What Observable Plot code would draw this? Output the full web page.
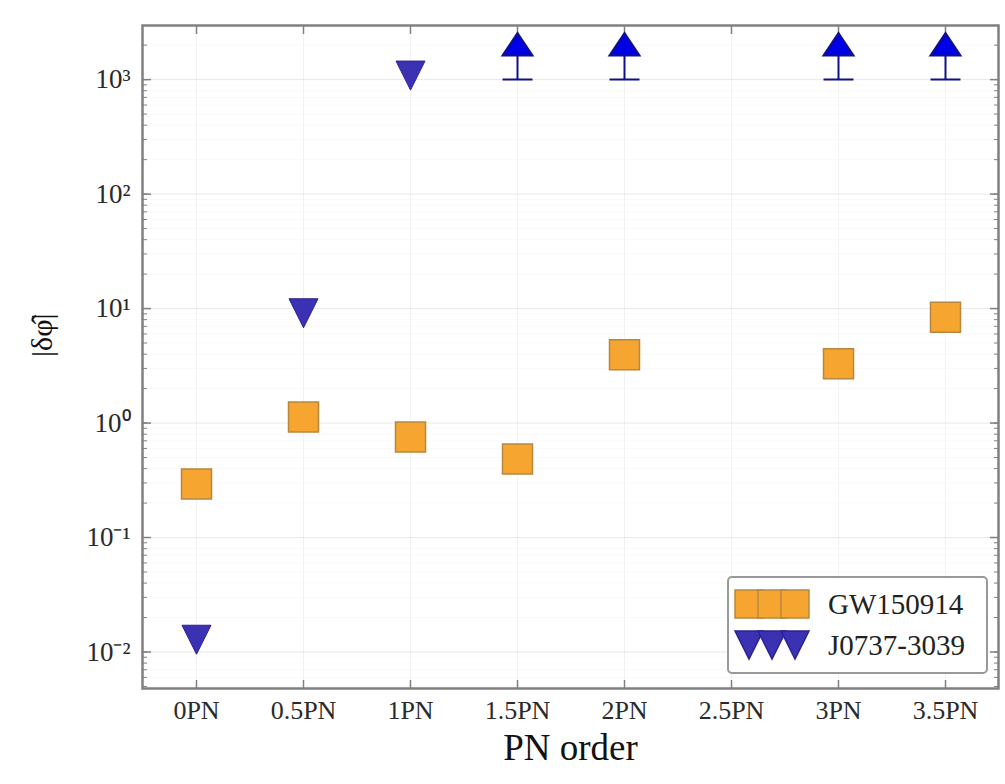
<!DOCTYPE html>
<html><head><meta charset="utf-8">
<script src="https://cdn.jsdelivr.net/npm/d3@7"></script>
<script src="https://cdn.jsdelivr.net/npm/@observablehq/plot@0.6"></script>
<style>
body{margin:0;background:#fff;}
#wrap{position:relative;width:1005px;height:784px;}
</style></head><body><div id="wrap"></div>
<script>
// ---- data ----
const orders = ["0PN","0.5PN","1PN","1.5PN","2PN","2.5PN","3PN","3.5PN"];
const gwOrders = ["0PN","0.5PN","1PN","1.5PN","2PN","3PN","3.5PN"];
const gwValues = [0.294,1.13,0.755,0.485,3.96,3.30,8.4];
const psrOrders = ["0PN","0.5PN","1PN"];
const psrValues = [0.0128,9.1,1085];
const limitOrders = ["1.5PN","2PN","3PN","3.5PN"];
const limitValues = [1000,1000,1000,1000];
const yTickValues = [0.01,0.1,1,10,100,1000];
const yTickLabels = ["10⁻²","10⁻¹","10⁰","10¹","10²","10³"];
const seriesNames = ["GW150914","J0737-3039"];
const xLabel = "PN order";
const yLabel = "|δφ̂|";

const gw = gwOrders.map((o,i)=>({order:o, value:gwValues[i]}));
const psr = psrOrders.map((o,i)=>({order:o, value:psrValues[i]}));
const lim = limitOrders.map((o,i)=>({order:o, value:limitValues[i]}));

const yDomain = [0.0048, 2970];
const minorTicks = d3.scaleLog().domain(yDomain).ticks();

// custom symbols (size = pi r^2)
const squareSym = {draw(ctx,size){const h=Math.sqrt(size/Math.PI);ctx.moveTo(-h,-h);ctx.lineTo(h,-h);ctx.lineTo(h,h);ctx.lineTo(-h,h);ctx.closePath();}};
const triDownSym = {draw(ctx,size){const h=Math.sqrt(size/Math.PI);ctx.moveTo(-h,-h);ctx.lineTo(h,-h);ctx.lineTo(0,h);ctx.closePath();}};
const upLimSym = {draw(ctx,size){const h=Math.sqrt(size/Math.PI);
  ctx.moveTo(-h,0);ctx.lineTo(h,0);
  ctx.moveTo(0,0);ctx.lineTo(0,-1.6*h);
  ctx.moveTo(-h,-1.6*h);ctx.lineTo(h,-1.6*h);ctx.lineTo(0,-3.1*h);ctx.closePath();}};

const gray = "#808080";
const chart = Plot.plot({
  width: 1005, height: 784,
  marginTop: 25, marginRight: 7, marginBottom: 96, marginLeft: 142,
  style: {fontFamily: "'Liberation Serif', 'Times New Roman', serif", fontSize: "27px", color: "#2a2a2a", background: "#fff"},
  x: {type: "point", domain: orders, padding: 0.5, label: null},
  y: {type: "log", domain: yDomain, label: null},
  marks: [
    Plot.gridY(minorTicks, {stroke: "#000", strokeOpacity: 0.025}),
    Plot.gridY(yTickValues, {stroke: "#000", strokeOpacity: 0.07}),
    Plot.gridX(orders, {stroke: "#000", strokeOpacity: 0.05}),
    Plot.axisY(yTickValues, {anchor: "left", tickSize: 0, tickPadding: 12, label: null,
      tickFormat: d => yTickLabels[yTickValues.indexOf(d)], fontSize: 27}),
    Plot.axisY(yTickValues, {anchor: "left", tickSize: -9, text: null, label: null, stroke: gray, strokeWidth: 1.5}),
    Plot.axisY(minorTicks, {anchor: "left", tickSize: -5, text: null, label: null, stroke: gray}),
    Plot.axisY(yTickValues, {anchor: "right", tickSize: -9, text: null, label: null, stroke: gray, strokeWidth: 1.5}),
    Plot.axisY(minorTicks, {anchor: "right", tickSize: -5, text: null, label: null, stroke: gray}),
    Plot.axisX(orders, {anchor: "bottom", tickSize: 0, tickPadding: 12, label: null, fontSize: 26}),
    Plot.axisX(orders, {anchor: "bottom", tickSize: -8, text: null, label: null, stroke: gray, strokeWidth: 1.5}),
    Plot.axisX(orders, {anchor: "top", tickSize: -8, text: null, label: null, stroke: gray, strokeWidth: 1.5}),
    Plot.frame({stroke: gray, strokeWidth: 2.5}),
    Plot.text([xLabel], {frameAnchor: "bottom", dy: 71, fontSize: 37, fill: "#111"}),
    Plot.text([yLabel], {frameAnchor: "left", dx: -100, rotate: -90, fontSize: 30, fill: "#111"}),
    Plot.dot(gw, {x: "order", y: "value", symbol: squareSym, r: 15, fill: "#f6a530", stroke: "#b8863f", strokeWidth: 1.5}),
    Plot.dot(psr, {x: "order", y: "value", symbol: triDownSym, r: 14.5, fill: "#3b32b3", stroke: "#2a2290", strokeWidth: 1}),
    Plot.dot(lim, {x: "order", y: "value", symbol: upLimSym, r: 15, fill: "#0000e6", stroke: "#10108a", strokeWidth: 2})
  ]
});
document.getElementById("wrap").appendChild(chart);

// legend
const svg = d3.select(chart);
const lg = svg.append("g").attr("class","legend");
lg.append("rect").attr("x",728).attr("y",577).attr("width",259).attr("height",96).attr("rx",4)
  .attr("fill","#fff").attr("fill-opacity",0.9).attr("stroke","#999").attr("stroke-width",2);
const legendRows = [
  {name: seriesNames[0], sym: squareSym, fill: "#f6a530", stroke: "#b8863f", y: 604},
  {name: seriesNames[1], sym: triDownSym, fill: "#3b32b3", stroke: "#2a2290", y: 645}
];
for (const row of legendRows) {
  for (const cx of [749, 772, 795]) {
    lg.append("path").attr("d", d3.symbol(row.sym, Math.PI*14*14)())
      .attr("transform",`translate(${cx},${row.y})`).attr("fill",row.fill).attr("stroke",row.stroke).attr("stroke-width",1.5);
  }
  lg.append("text").attr("x",828).attr("y",row.y).attr("dy","0.35em").attr("text-anchor","start")
    .attr("font-size",29).attr("fill","#222").text(row.name);
}
</script>
</body></html>
